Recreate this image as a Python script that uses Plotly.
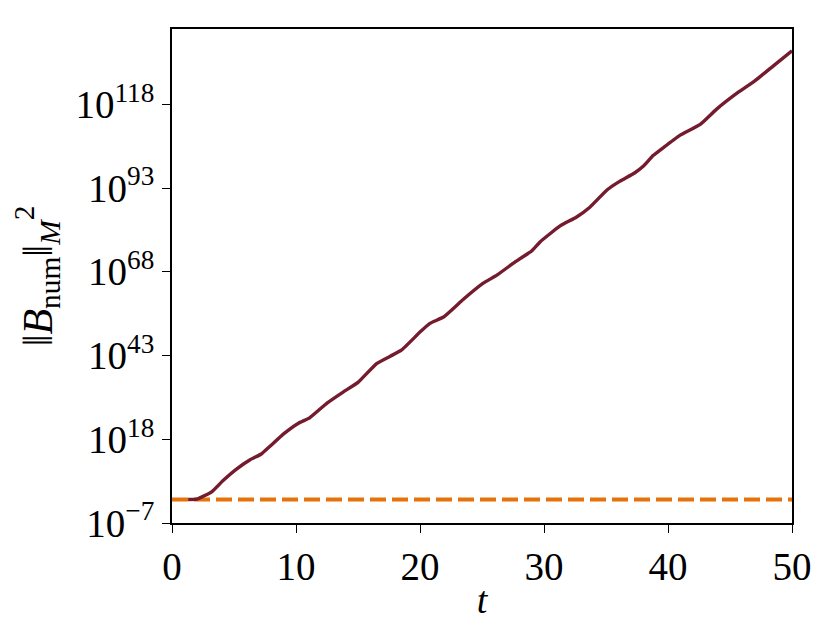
import numpy as np
import plotly.graph_objects as go

# time samples and log10 of the squared magnetic norm
t = [1.3, 2.0, 3.2, 4.1, 5.2, 6.3, 7.2, 7.9, 9.0, 10.2, 11.1, 12.5, 13.8, 15.0,
     16.5, 17.6, 18.5, 20.0, 20.8, 21.9, 23.5, 25.1, 26.2, 27.5, 28.1,
     29.0, 29.7, 31.3, 32.6, 33.7, 35.1, 36.1, 37.3, 38.0, 38.8, 39.6, 40.9,
     42.6, 43.9, 45.7, 47.0, 48.5, 50.0]
log10_norm = [0.0, 0.1, 2.3, 5.6, 9.1, 11.9, 13.6, 15.9, 19.6, 22.8, 24.4, 28.8,
              32.1, 35.0, 40.6, 42.8, 44.6, 50.0, 52.6, 54.5, 59.8, 64.6,
              67.0, 70.5, 72.0, 74.2, 77.0, 81.7, 84.3, 87.3, 92.5, 95.0, 97.5,
              99.5, 102.7, 105.0, 108.6, 112.0, 116.5, 121.7, 125.0, 129.5, 134.0]

# reference level (dashed)
t_ref = [0, 50]
ref_level = [1.0, 1.0]

# y ticks
ytick_exp = [-7, 18, 43, 68, 93, 118]
ytick_vals = [10.0 ** e for e in ytick_exp]
ytick_text = ["10<sup>%s</sup>" % str(e).replace("-", "\u2212") for e in ytick_exp]

font = "Liberation Serif"

fig = go.Figure()
fig.add_trace(go.Scatter(
    x=t_ref, y=ref_level, mode="lines",
    line=dict(color="#e5720a", width=4, dash="16px,6px"),
    showlegend=False,
))
fig.add_trace(go.Scatter(
    x=t, y=10.0 ** np.array(log10_norm), mode="lines",
    line=dict(color="#741b2e", width=3.4, shape="spline", smoothing=0.4),
    showlegend=False,
))

axis_common = dict(
    showline=True, linecolor="black", linewidth=1.6, mirror=True,
    ticks="outside", ticklen=8, tickwidth=1.4, tickcolor="black",
    showgrid=False, zeroline=False,
    tickfont=dict(family=font, size=39, color="black"),
)

# page body has an 8px margin, so margins are shifted to compensate
fig.update_layout(
    width=831, height=642,
    margin=dict(l=164, r=47, t=21, b=127),
    paper_bgcolor="white", plot_bgcolor="white",
    xaxis=dict(
        range=[0, 50], tickvals=[0, 10, 20, 30, 40, 50],
        title=dict(text="<i>t</i>", font=dict(family=font, size=38, color="black"),
                   standoff=0),
        **axis_common,
    ),
    yaxis=dict(
        type="log", range=[-7, 140.5],
        tickvals=ytick_vals, ticktext=ytick_text,
        title=dict(text="\u2016<i>B</i><sub>num</sub>\u2016<sub><i>M</i></sub><sup>2</sup>",
                   font=dict(family=font, size=42, color="black"), standoff=16),
        **axis_common,
    ),
)

fig.write_html("out.html")
